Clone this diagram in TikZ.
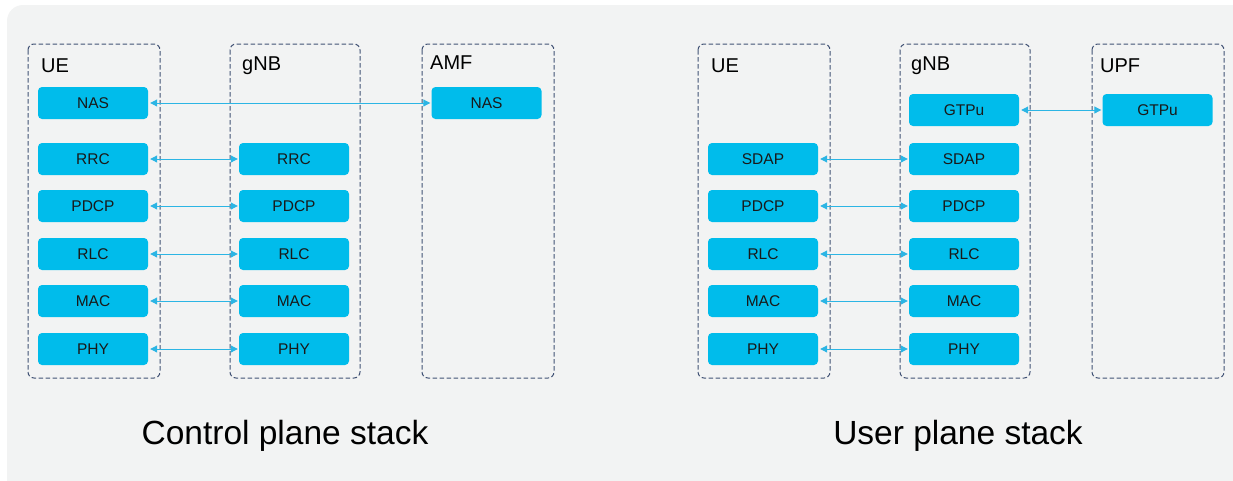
\documentclass[tikz,border=0pt]{standalone}
\usepackage{fontspec}
\setmainfont{Liberation Sans}
\usetikzlibrary{arrows.meta}
\definecolor{panel}{HTML}{F2F3F3}
\definecolor{layer}{HTML}{00BCEB}
\definecolor{frame}{HTML}{415275}
\definecolor{link}{HTML}{2CB5E4}
\tikzset{
  x=1pt, y=-1pt,
  entity/.style={draw=frame, dashed, dash pattern=on 4.5pt off 2.5pt, line width=1pt, rounded corners=6pt},
  entname/.style={anchor=west, font=\fontsize{20}{22}\selectfont, inner sep=0pt},
  layerbox/.style={fill=layer, rounded corners=4pt, minimum width=110pt, minimum height=32pt,
    inner sep=0pt, text=black!90, font=\fontsize{15.5}{17}\selectfont},
  peer/.style={draw=link, line width=1pt, {Triangle[length=7pt,width=7pt]}-{Triangle[length=7pt,width=7pt]}},
  caption/.style={font=\fontsize{33.5}{38}\selectfont}
}
\begin{document}
\begin{tikzpicture}
\useasboundingbox (0,0) rectangle (1233,480);
% panel behind both stacks
\fill[panel, rounded corners=16pt] (7,5) rectangle (1260,505);

% ---------- control plane ----------
\draw[entity] (28,44) rectangle (160,378);
\draw[entity] (230,44) rectangle (360,378);
\draw[entity] (422,44) rectangle (554,378);
\node[entname] (cue) at (41,66) {UE};
\node[entname] (cgnb) at (242,66) {gNB};
\node[entname] (camf) at (430,63) {AMF};

\node[layerbox] (cueNAS)  at (93,103) {NAS};
\node[layerbox] (camfNAS) at (486.5,103) {NAS};
\foreach \n/\y in {RRC/159, PDCP/206, RLC/254, MAC/301, PHY/349} {
  \node[layerbox] (cue\n)  at (93,\y) {\n};
  \node[layerbox] (cgnb\n) at (294,\y) {\n};
  \draw[peer] (cue\n.east) ++(2,0) -- ([xshift=-1pt]cgnb\n.west);
}
\draw[peer] ([xshift=2pt]cueNAS.east) -- ([xshift=-1pt]camfNAS.west);
\node[caption] (ccap) at (285,436) {Control plane stack};

% ---------- user plane ----------
\draw[entity] (698,44) rectangle (830,378);
\draw[entity] (900,44) rectangle (1030,378);
\draw[entity] (1092,44) rectangle (1224,378);
\node[entname] (uue) at (711,66) {UE};
\node[entname] (ugnb) at (911,66) {gNB};
\node[entname] (uupf) at (1100,66) {UPF};

\node[layerbox] (ugnbGTPu) at (964,110) {GTPu};
\node[layerbox] (uupfGTPu) at (1157.5,110) {GTPu};
\draw[peer] ([xshift=2pt]ugnbGTPu.east) -- ([xshift=-1pt]uupfGTPu.west);
\foreach \n/\y in {SDAP/159, PDCP/206, RLC/254, MAC/301, PHY/349} {
  \node[layerbox] (uue\n)  at (763,\y) {\n};
  \node[layerbox] (ugnb\n) at (964,\y) {\n};
  \draw[peer] (uue\n.east) ++(2,0) -- ([xshift=-1pt]ugnb\n.west);
}
\node[caption] (ucap) at (958,436) {User plane stack};
\end{tikzpicture}
\end{document}
